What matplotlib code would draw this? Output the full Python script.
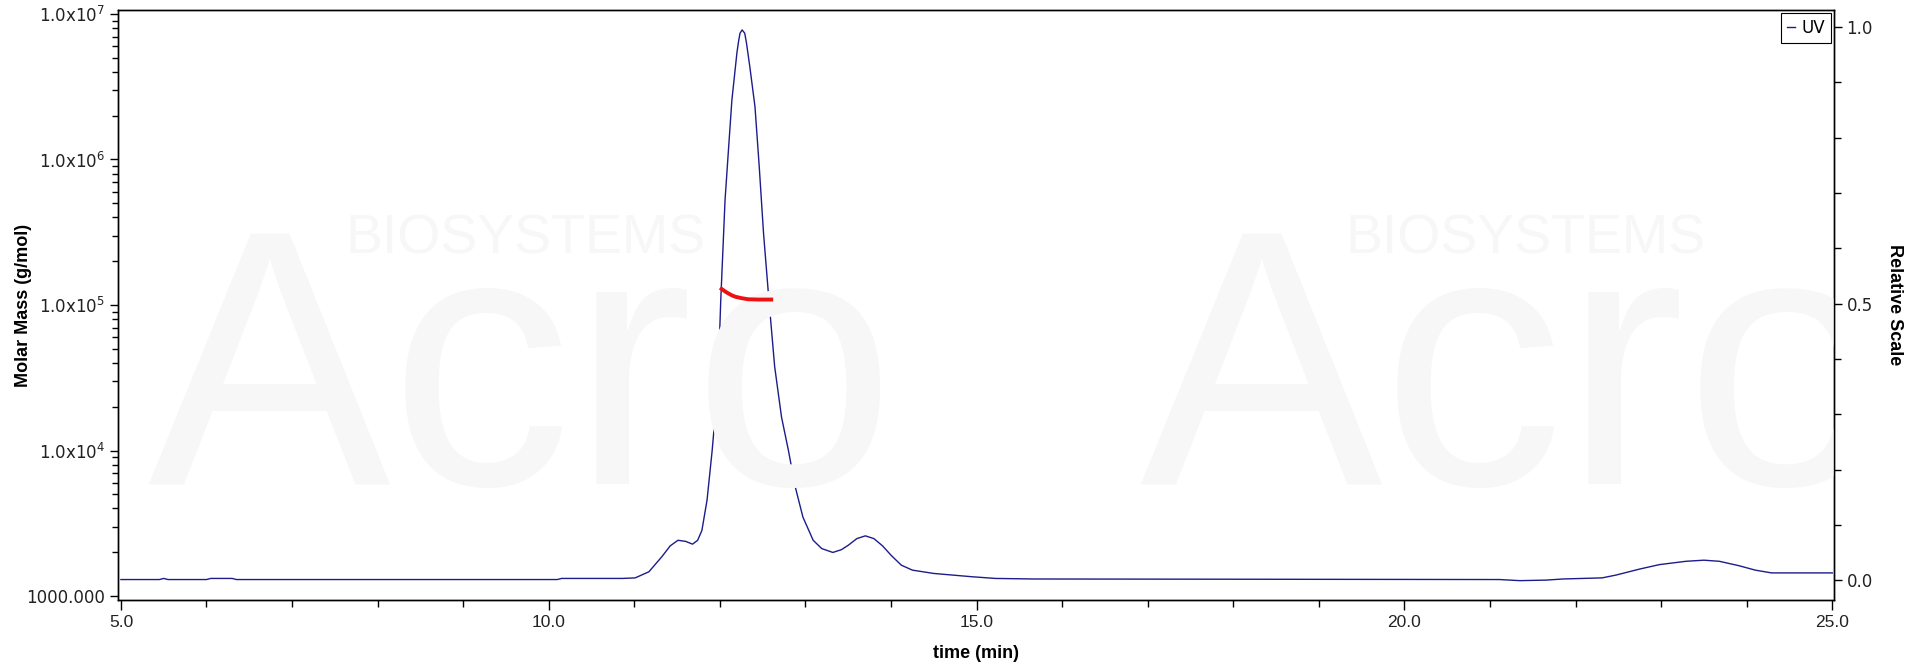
import matplotlib
matplotlib.use("Agg")
import numpy as np
import matplotlib.pyplot as plt
from matplotlib.ticker import FixedLocator, MultipleLocator, LogLocator, NullFormatter
from matplotlib import font_manager

# UV trace (relative scale)
uv_time = [5.0, 5.45, 5.5, 5.55, 6.0, 6.05, 6.3, 6.35, 10.1, 10.15, 10.86,
           11.01, 11.17, 11.32, 11.42, 11.51, 11.6, 11.68, 11.74, 11.79, 11.85,
           11.91, 11.96, 11.99, 12.01, 12.06, 12.10, 12.14, 12.20, 12.22, 12.235,
           12.26, 12.29, 12.31, 12.35, 12.41, 12.46, 12.51, 12.57, 12.64, 12.72,
           12.80, 12.88, 12.97, 13.09, 13.19, 13.32, 13.42, 13.50, 13.60, 13.70,
           13.80, 13.90, 14.00, 14.12, 14.25, 14.50, 14.95, 15.22, 15.67, 21.11,
           21.35, 21.66, 21.85, 22.31, 22.47, 22.75, 22.98, 23.29, 23.50, 23.68,
           23.91, 24.10, 24.29, 24.43, 25.0]
uv_rel = [0.001, 0.001, 0.003, 0.001, 0.001, 0.003, 0.003, 0.001, 0.001, 0.003, 0.003,
          0.004, 0.015, 0.042, 0.062, 0.072, 0.070, 0.065, 0.072, 0.090, 0.145,
          0.235, 0.325, 0.416, 0.506, 0.687, 0.778, 0.868, 0.955, 0.976, 0.989,
          0.995, 0.989, 0.972, 0.928, 0.856, 0.747, 0.627, 0.512, 0.386, 0.295,
          0.235, 0.169, 0.114, 0.072, 0.057, 0.050, 0.055, 0.063, 0.075, 0.080,
          0.075, 0.062, 0.045, 0.027, 0.018, 0.012, 0.006, 0.003, 0.002, 0.001,
          -0.001, 0.0, 0.002, 0.004, 0.009, 0.020, 0.028, 0.034, 0.036, 0.034,
          0.026, 0.018, 0.013, 0.013, 0.013]

# molar mass across the main peak
mm_time = [12.02, 12.06, 12.10, 12.14, 12.18, 12.25, 12.33, 12.45, 12.60]
mm_value = [1.29e5, 1.24e5, 1.20e5, 1.165e5, 1.14e5, 1.115e5, 1.095e5, 1.09e5, 1.09e5]

x_ticks = [5.0, 10.0, 15.0, 20.0, 25.0]
y_decades = [1e3, 1e4, 1e5, 1e6, 1e7]
rel_ticks = [0.0, 0.5, 1.0]


def pick_font(names):
    have = {f.name for f in font_manager.fontManager.ttflist}
    for n in names:
        if n in have:
            return n
    return "DejaVu Sans"


narrow = pick_font(["Liberation Sans Narrow", "Liberation Sans", "DejaVu Sans"])
wm_font = pick_font(["Liberation Sans", "DejaVu Sans"])

fig = plt.figure(figsize=(19.2, 6.72), dpi=100)
ax = fig.add_axes([117.5 / 1920, 1 - 600 / 672, (1834 - 117.5) / 1920, 590 / 672])
ax2 = ax.twinx()

# faint watermark
for x0 in [147, 1139]:
    ax.text(x0 / 1920, 1 - 484 / 672, "Acro", transform=fig.transFigure, clip_on=True,
            fontsize=262, family=wm_font, color="#f7f7f7",
            ha="left", va="baseline", zorder=0)
for x0 in [346, 1346]:
    ax.text(x0 / 1920, 1 - 239 / 672, "BIOSYSTEMS", transform=fig.transFigure, clip_on=True,
            fontsize=40, family=wm_font, color="#f7f7f7", ha="left", va="center", zorder=0)

ax.plot(mm_time, mm_value, color="#ee1111", lw=2.8, zorder=5)
ax.set_yscale("log")
ax.set_xlim(4.96, 25.02)
ax.set_ylim(939, 1.065e7)

ax2.plot(uv_time, uv_rel, color="#1c1c8a", lw=1.0, label="UV")
ax2.set_ylim(-0.036, 1.031)
ax.set_zorder(ax2.get_zorder() + 1)
ax.patch.set_visible(False)

# x axis
ax.xaxis.set_major_locator(FixedLocator(x_ticks))
ax.xaxis.set_minor_locator(MultipleLocator(1.0))
ax.set_xticklabels([f"{v:.1f}" for v in x_ticks], family=narrow, fontsize=12.5, color="#222222")
ax.tick_params(axis="x", which="major", direction="out", length=7, width=1, pad=4)
ax.tick_params(axis="x", which="minor", direction="out", length=5, width=1)

# left log axis
ax.yaxis.set_major_locator(FixedLocator(y_decades))
ax.yaxis.set_minor_locator(LogLocator(base=10, subs=np.arange(2, 10)))
ax.yaxis.set_minor_formatter(NullFormatter())
ylabels = ["1000.000"] + [f"1.0x10$^{{{int(np.log10(v))}}}$" for v in y_decades[1:]]
ax.set_yticklabels(ylabels, fontsize=12, color="#222222")
ax.tick_params(axis="y", which="major", direction="out", length=6, width=1, pad=3)
ax.tick_params(axis="y", which="minor", direction="out", length=4, width=1)

# right relative axis
ax2.yaxis.set_major_locator(FixedLocator(rel_ticks))
ax2.yaxis.set_minor_locator(MultipleLocator(0.1))
ax2.set_yticklabels([f"{v:.1f}" for v in rel_ticks], fontsize=12, color="#222222")
ax2.tick_params(axis="y", which="major", direction="out", length=6, width=1, pad=3)
ax2.tick_params(axis="y", which="minor", direction="out", length=5, width=1)

for a in (ax, ax2):
    for s in a.spines.values():
        s.set_linewidth(1.0)
        s.set_color("black")

ax.set_xlabel("time (min)", family=narrow, fontsize=13, fontweight="bold")
ax.xaxis.set_label_coords(0.5, -0.077)
ax.set_ylabel("Molar Mass (g/mol)", family=narrow, fontsize=13, fontweight="bold")
ax.yaxis.set_label_coords(-0.050, 0.5)
ax2.set_ylabel("Relative Scale", family=narrow, fontsize=13, fontweight="bold", rotation=270, va="center")
ax2.yaxis.set_label_coords(1.0355, 0.5)

leg = ax2.legend(loc="upper right", handlelength=0.5, handletextpad=0.35, fontsize=12,
                 frameon=True, fancybox=False, borderpad=0.35, borderaxespad=0.2,
                 edgecolor="black", framealpha=1)
leg.get_frame().set_linewidth(0.8)

fig.savefig("out.png", dpi=100)
